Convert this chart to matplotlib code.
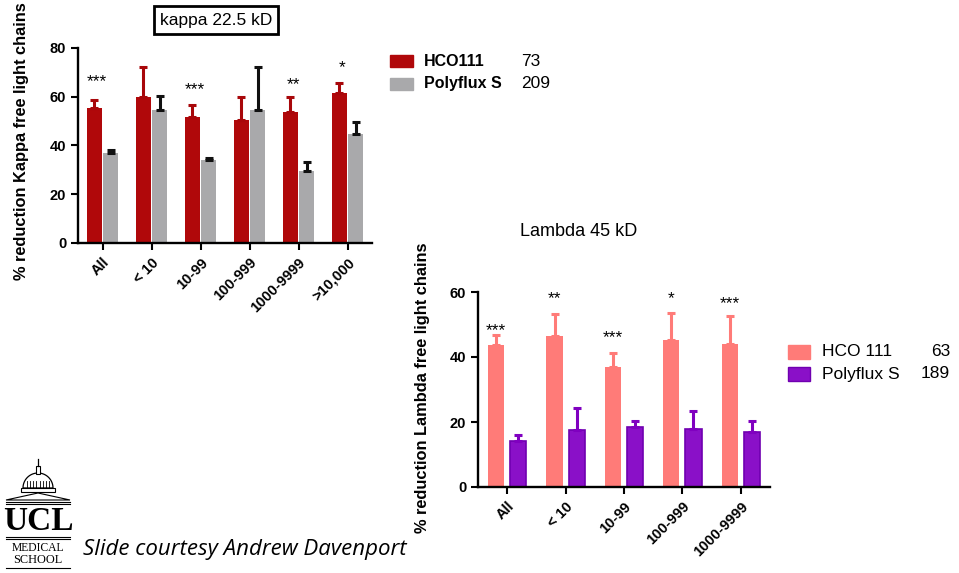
import matplotlib
matplotlib.use("Agg")
import matplotlib.pyplot as plt
import numpy as np
from matplotlib.patches import Rectangle, Polygon

# ---------------- data ----------------
kappa_cats = ["All", "< 10", "10-99", "100-999", "1000-9999", ">10,000"]
kappa_hco = [55.3, 60.0, 51.6, 50.3, 53.8, 61.4]
kappa_hco_err = [58.5, 72.0, 56.5, 60.0, 60.0, 65.6]
kappa_poly = [37.0, 54.5, 34.0, 54.4, 29.6, 44.8]
kappa_poly_err = [38.3, 60.3, 35.0, 72.0, 33.3, 49.8]
kappa_stars = ["***", "", "***", "", "**", "*"]
kappa_star_y = [66.0, 0, 63.0, 0, 65.0, 72.0]

lambda_cats = ["All", "< 10", "10-99", "100-999", "1000-9999"]
lambda_hco = [43.6, 46.6, 36.9, 45.2, 43.9]
lambda_hco_err = [46.9, 53.3, 41.1, 53.6, 52.5]
lambda_poly = [14.3, 17.6, 18.4, 17.7, 17.0]
lambda_poly_err = [16.0, 24.3, 20.3, 23.5, 20.3]
lambda_stars = ["***", "**", "***", "*", "***"]
lambda_star_y = [48.0, 58.0, 46.0, 58.0, 56.3]

kappa_legend = [("HCO111", "73"), ("Polyflux S", "209")]
lambda_legend = [("HCO 111", "63"), ("Polyflux S", "189")]

W, H = 959, 573
plt.rcParams['font.family'] = ['Liberation Sans', 'DejaVu Sans']
fig = plt.figure(figsize=(W / 100, H / 100), dpi=100)


def rect(l, t, r, b):
    return [l / W, 1 - b / H, (r - l) / W, (b - t) / H]


def fx(x):
    return x / W


def fy(y):
    return 1 - y / H


def style_axes(ax, ymax, ystep, cats):
    for s in ["top", "right"]:
        ax.spines[s].set_visible(False)
    for s in ["left", "bottom"]:
        ax.spines[s].set_linewidth(1.7)
    ax.set_ylim(0, ymax)
    ax.set_yticks(np.arange(0, ymax + 1, ystep))
    ax.set_xlim(-0.5, len(cats) - 0.5)
    ax.set_xticks(np.arange(len(cats)))
    ax.set_xticklabels(cats, rotation=45, ha="right", rotation_mode="anchor",
                       fontweight="bold", fontsize=10.5)
    ax.tick_params(axis="both", width=1.5, length=5, direction="out", labelsize=10.5)
    ax.tick_params(axis="x", pad=4)
    for lab in ax.get_yticklabels():
        lab.set_fontweight("bold")
    ax.patch.set_alpha(0)


def draw_bars(ax, vals, errs, offset, width, color, ecolor, edge=None):
    x = np.arange(len(vals)) + offset
    ax.bar(x, vals, width=width, color=color, edgecolor=edge if edge else color,
           linewidth=1.2 if edge else 0, zorder=2)
    lower = np.zeros(len(vals))
    upper = np.array(errs) - np.array(vals)
    ax.errorbar(x, vals, yerr=[lower, upper], fmt="none", ecolor=ecolor,
                elinewidth=2.2, capsize=3, capthick=2.2, zorder=3)
    return x


# ---------------- kappa ----------------
axk = fig.add_axes(rect(78, 48, 372, 243))
style_axes(axk, 80, 20, kappa_cats)
xr = draw_bars(axk, kappa_hco, kappa_hco_err, -0.17, 0.30, "#b0080a", "#a8070a")
draw_bars(axk, kappa_poly, kappa_poly_err, 0.17, 0.30, "#a9a9ab", "#111111")
for xi, s, y in zip(xr, kappa_stars, kappa_star_y):
    if s:
        axk.text(xi + 0.06, y, s, ha="center", va="center", fontsize=12.5)
axk.set_ylabel("% reduction Kappa free light chains", fontweight="bold",
               fontsize=11.8)
axk.yaxis.set_label_coords(-0.165, 0.52)

fig.text(fx(216), fy(20), "kappa 22.5 kD", ha="center", va="center", fontsize=12.5,
         bbox=dict(boxstyle="square,pad=0.35", fc="white", ec="black", lw=2))

# kappa legend
for i, ((name, n), col) in enumerate(zip(kappa_legend, ["#b0080a", "#a9a9ab"])):
    yc = 61 + i * 23
    fig.patches.append(Rectangle((fx(390), fy(yc + 6)), fx(23), 12 / H,
                                 transform=fig.transFigure, fc=col, ec=col))
    fig.text(fx(424), fy(yc), name, ha="left", va="center", fontsize=11.5,
             fontweight="bold")
    fig.text(fx(521), fy(yc), n, ha="left", va="center", fontsize=12.5)

# ---------------- lambda ----------------
axl = fig.add_axes(rect(478, 292, 770, 487))
style_axes(axl, 60, 20, lambda_cats)
xr = draw_bars(axl, lambda_hco, lambda_hco_err, -0.19, 0.28, "#ff7b78", "#ff7b78")
draw_bars(axl, lambda_poly, lambda_poly_err, 0.19, 0.28, "#8a10c8", "#8000c0",
          edge="#7000b0")
for xi, s, y in zip(xr, lambda_stars, lambda_star_y):
    if s:
        axl.text(xi, y, s, ha="center", va="center", fontsize=12.5)
axl.set_ylabel("% reduction Lambda free light chains", fontweight="bold",
               fontsize=11.8)
axl.yaxis.set_label_coords(-0.165, 0.51)
fig.text(fx(579), fy(232), "Lambda 45 kD", ha="center", va="center", fontsize=13)

for i, ((name, n), col) in enumerate(zip(lambda_legend, ["#ff7b78", "#8a10c8"])):
    yc = 352 + i * 22
    fig.patches.append(Rectangle((fx(788), fy(yc + 7)), fx(22), 14 / H,
                                 transform=fig.transFigure, fc=col,
                                 ec=col if i == 0 else "#7000b0"))
    fig.text(fx(822), fy(yc), name, ha="left", va="center", fontsize=12.5)
    fig.text(fx(950), fy(yc), n, ha="right", va="center", fontsize=12.5)

# ---------------- footer: logo + credit ----------------
la = fig.add_axes(rect(0, 455, 75, 573))
la.set_xlim(0, 75)
la.set_ylim(573, 455)
la.axis("off")
t = np.linspace(0, np.pi, 40)
la.add_patch(Polygon(np.column_stack([38 + 15 * np.cos(t), 488 - 15 * np.sin(t)]),
                     closed=True, fc="white", ec="black", lw=0.9))
for xx in np.linspace(27, 49, 8):
    la.plot([xx, xx], [481, 488], color="black", lw=0.6)
la.add_patch(Rectangle((36, 466), 4, 8, fc="white", ec="black", lw=0.8))
la.plot([38, 38], [459, 466], color="black", lw=0.9)
la.add_patch(Rectangle((21, 488), 34, 4, fc="white", ec="black", lw=0.8))
la.add_patch(Polygon([[6, 500], [38, 493], [70, 500]], closed=True, fc="white",
                     ec="black", lw=0.8))
la.plot([6, 70], [502, 502], color="black", lw=0.8)
la.plot([6, 70], [504, 504], color="black", lw=0.8)
la.text(38, 521, "UCL", ha="center", va="center", fontsize=24,
        family="Liberation Serif", fontweight="bold")
la.plot([6, 70], [537, 537], color="black", lw=0.8)
la.plot([6, 70], [539, 539], color="black", lw=0.8)
la.text(38, 548, "MEDICAL", ha="center", va="center", fontsize=8.4,
        family="Liberation Serif")
la.text(38, 560, "SCHOOL", ha="center", va="center", fontsize=8.8,
        family="Liberation Serif")
la.plot([6, 70], [568, 568], color="black", lw=0.8)

fig.text(fx(83), fy(549), "Slide courtesy Andrew Davenport", ha="left",
         va="center", fontsize=16, style="italic", family=["Open Sans", "DejaVu Sans"])

fig.savefig("out.png", dpi=100)
